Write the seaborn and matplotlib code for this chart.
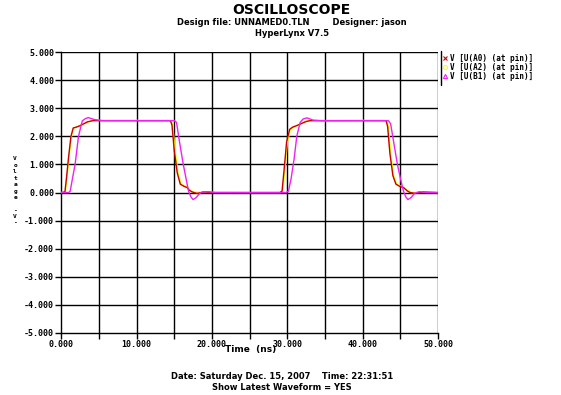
import matplotlib
matplotlib.use("Agg")
import matplotlib.pyplot as plt
import seaborn as sns
import pandas as pd

# waveform samples (time in ns, voltage in V)
t_a0 = [0, 0.5, 0.7, 1.0, 1.3, 1.6, 2.0, 2.5, 3.0, 3.5, 4.2, 5, 10, 14.5, 14.7,
        15.0, 15.4, 15.8, 16.3, 16.7, 17.0, 17.4, 18, 19, 20, 22, 25, 29.0, 29.3,
        29.6, 29.9, 30.3, 30.7, 31.2, 31.8, 32.5, 33, 35, 40, 43.1, 43.3, 43.6,
        44.0, 44.4, 44.9, 45.4, 45.9, 46.3, 47, 48, 50]
v_a0 = [0, 0.02, 0.5, 1.3, 2.0, 2.3, 2.33, 2.38, 2.45, 2.52, 2.56, 2.56, 2.56,
        2.56, 2.4, 1.5, 0.7, 0.3, 0.22, 0.18, 0.08, 0.02, -0.03, 0.02, 0, 0, 0,
        0, 0.05, 0.9, 1.8, 2.25, 2.33, 2.38, 2.45, 2.53, 2.56, 2.56, 2.56, 2.56,
        2.35, 1.4, 0.6, 0.3, 0.22, 0.18, 0.06, 0.0, -0.03, 0.02, 0]

t_a2 = [0, 0.55, 0.8, 1.1, 1.4, 1.7, 2.2, 3.0, 4.2, 10, 14.6, 14.8, 15.1, 15.5,
        15.9, 16.8, 17.5, 19, 25, 29.1, 29.4, 29.7, 30.0, 30.4, 31.0, 32.5, 40,
        43.2, 43.4, 43.7, 44.1, 44.5, 45.5, 46.4, 48, 50]
v_a2 = [0, 0.02, 0.6, 1.4, 2.05, 2.3, 2.35, 2.45, 2.57, 2.57, 2.57, 2.4, 1.5,
        0.7, 0.3, 0.18, 0.02, 0.01, 0, 0, 0.05, 0.9, 1.8, 2.25, 2.35, 2.55, 2.57,
        2.57, 2.35, 1.4, 0.6, 0.3, 0.16, 0.0, 0.01, 0]

t_b1 = [0, 1.0, 1.2, 1.5, 1.85, 2.3, 2.8, 3.2, 3.6, 4.4, 5.5, 10, 15.0, 15.3,
        15.7, 16.2, 16.6, 16.9, 17.2, 17.5, 17.9, 18.3, 18.7, 19.5, 20.5, 25,
        29.8, 30.15, 30.5, 30.9, 31.25, 31.7, 32.1, 32.6, 33.4, 34.5, 40, 43.4,
        43.7, 44.1, 44.6, 45.0, 45.4, 45.7, 46.0, 46.4, 46.9, 47.5, 48.5, 50]
v_b1 = [0, 0, 0.05, 0.5, 1.0, 2.0, 2.55, 2.63, 2.67, 2.6, 2.56, 2.56, 2.56,
        2.5, 1.8, 1.0, 0.45, 0.05, -0.15, -0.25, -0.18, -0.05, 0.02, 0.03, 0, 0,
        0, 0.05, 0.5, 1.2, 2.0, 2.5, 2.62, 2.66, 2.58, 2.56, 2.56, 2.56, 2.45,
        1.8, 1.0, 0.5, 0.05, -0.15, -0.25, -0.18, -0.02, 0.03, 0, 0]

series_names = ["V [U(A0) (at pin)]", "V [U(A2) (at pin)]", "V [U(B1) (at pin)]"]
series_colors = ["#c80000", "#ffff00", "#ee22ee"]
series_markers = ["x", "o", "^"]

x_ticks = [0, 10, 20, 30, 40, 50]
y_ticks = [5, 4, 3, 2, 1, 0, -1, -2, -3, -4, -5]
y_label = "Voltage -V-"

sns.set_style("white")
plt.rcParams["text.color"] = "black"
plt.rcParams["xtick.color"] = "black"
plt.rcParams["ytick.color"] = "black"
mono = "DejaVu Sans Mono"

fig = plt.figure(figsize=(5.61, 3.95), dpi=100)
ax = fig.add_axes([0.109, 0.157, 0.672, 0.711])

data = [(t_a2, v_a2, 1), (t_a0, v_a0, 0), (t_b1, v_b1, 2)]
for t, v, i in data:
    df = pd.DataFrame({"t": t, "v": v})
    sns.lineplot(data=df, x="t", y="v", color=series_colors[i], lw=1,
                 sort=False, estimator=None, ax=ax, zorder=3)

ax.set_xlim(0, 50)
ax.set_ylim(-5, 5)
for xv in range(5, 51, 5):
    ax.axvline(xv, color="black", lw=1, zorder=1)
for yv in range(-4, 6):
    ax.axhline(yv, color="black", lw=1, zorder=1)

for side in ["top", "right"]:
    ax.spines[side].set_visible(False)
for side in ["left", "bottom"]:
    ax.spines[side].set_color("black")
    ax.spines[side].set_linewidth(1)

ax.set_xticks(x_ticks)
ax.set_xticks(range(5, 50, 10), minor=True)
ax.set_xticklabels([f"{x:.3f}" for x in x_ticks], fontfamily=mono,
                   fontweight="bold", fontsize=6)
ax.set_yticks(y_ticks)
ax.set_yticklabels([f"{y:.3f}" for y in y_ticks], fontfamily=mono,
                   fontweight="bold", fontsize=6)
ax.tick_params(axis="both", which="both", direction="out", length=4,
               width=1, color="black", pad=1, bottom=True, left=True)
ax.set_xlabel("")
ax.set_ylabel("")

fig.text(0.446, 0.108, "Time  (ns)", ha="center", fontsize=6.5, fontweight="bold")
# stacked upright letters for the y label
for k, ch in enumerate(y_label):
    fig.text(0.027, (395 - 159 - k * 6.4) / 395, ch, ha="center", va="center",
             fontfamily=mono, fontsize=4.5, fontweight="bold")

fig.text(0.52, 0.975, "OSCILLOSCOPE", ha="center", va="center",
         fontsize=10, fontweight="bold")
fig.text(0.52, 0.944, "Design file: UNNAMED0.TLN        Designer: jason",
         ha="center", va="center", fontsize=6, fontweight="bold")
fig.text(0.52, 0.914, "HyperLynx V7.5", ha="center", va="center",
         fontsize=6, fontweight="bold")
fig.text(0.503, 0.046, "Date: Saturday Dec. 15, 2007    Time: 22:31:51",
         ha="center", va="center", fontsize=6, fontweight="bold")
fig.text(0.503, 0.018, "Show Latest Waveform = YES", ha="center", va="center",
         fontsize=6, fontweight="bold")

# legend drawn by hand to the right of the plot
fig.add_artist(plt.Line2D([0.786, 0.786], [0.785, 0.87], color="black", lw=1))
for i, name in enumerate(series_names):
    y = 0.853 - i * 0.023
    fig.add_artist(plt.Line2D([0.794], [y], marker=series_markers[i],
                              color=series_colors[i], ms=3, mew=0.8,
                              fillstyle="none"))
    fig.text(0.802, y, name, va="center", fontfamily=mono, fontsize=5.5,
             fontweight="bold")

fig.savefig("out.png", dpi=100)
